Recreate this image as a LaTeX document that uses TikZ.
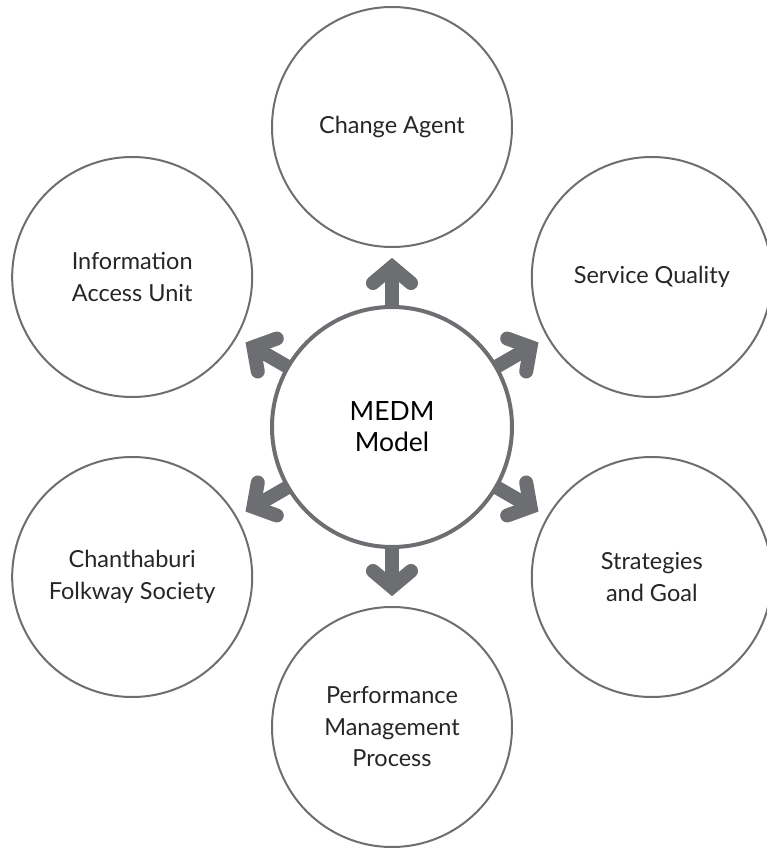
\documentclass[tikz,border=0pt]{standalone}
\usepackage{fontspec}
\setmainfont{Lato}
\usetikzlibrary{calc}
\definecolor{ringgray}{HTML}{6D6E71}

\begin{document}
\begin{tikzpicture}[x=1pt,y=1pt,
    topic/.style={circle, draw=ringgray, line width=2pt, minimum size=240pt,
        align=center, text=black!85, font=\fontsize{23.5}{31.5}\selectfont},
    hub/.style={circle, draw=ringgray, line width=4pt, minimum size=240pt,
        align=center, font=\fontsize{26.5}{31}\selectfont},
    shaft/.style={draw=ringgray, line width=14pt, shorten <=-2pt, shorten >=19pt},
    barb/.style={draw=ringgray, line width=14pt, line cap=round, line join=miter}]
        \useasboundingbox (-392,-422) rectangle (374,427);

        % Centre
        \node[hub] (m) at (0,0) {MEDM\\Model};

        % Outer circles
        \node[topic] (ca) at (90:300) {Change Agent};
        \node[topic] (sq) at (30:300) {Service Quality};
        \node[topic] (sg) at (-30:300) {Strategies\\and Goal};
        \node[topic] (pm) at (-90:300) {Performance\\Management\\Process};
        \node[topic] (cf) at (-150:300) {Chanthaburi\\Folkway Society};
        \node[topic] (ia) at (150:300) {Information\\Access Unit};

        % Arrows
        \foreach \n in {ca,sq,sg,pm,cf,ia}{
            \draw[shaft] (m) -- (\n);
            \draw[barb] ($(m)!144/300!(\n)!19pt!90:(\n)$) -- ($(m)!160/300!(\n)$)
                -- ($(m)!144/300!(\n)!19pt!-90:(\n)$);
        }
    \end{tikzpicture}
\end{document}
